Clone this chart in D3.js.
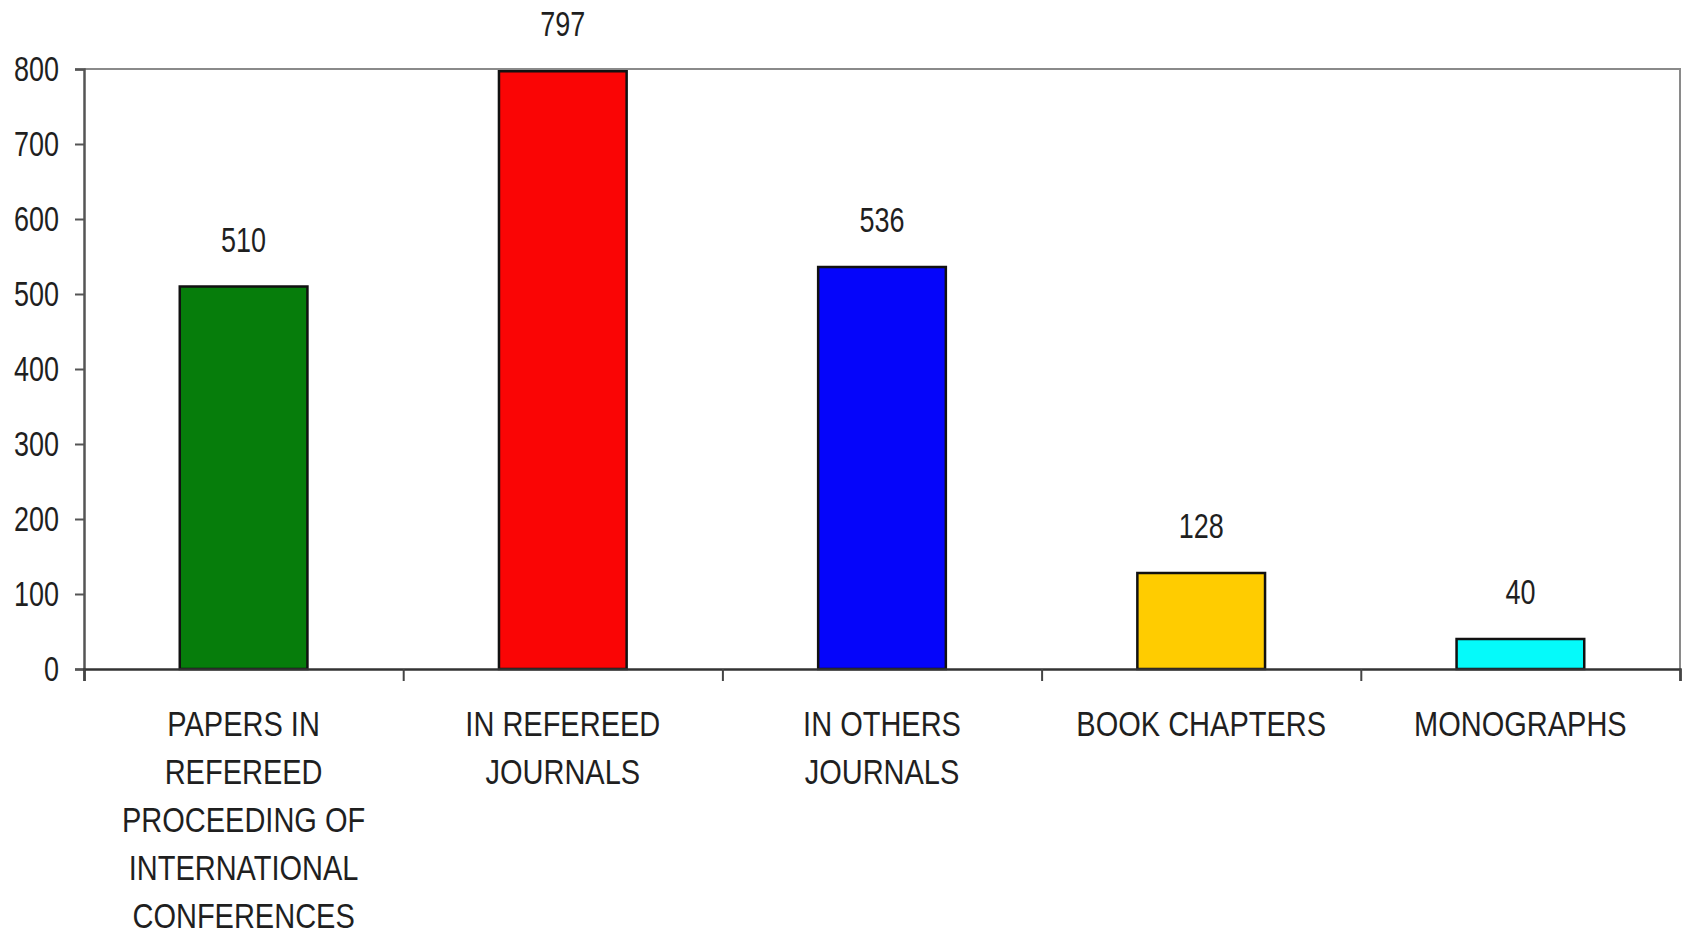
<!DOCTYPE html>
<html>
<head>
<meta charset="utf-8">
<script src="https://cdn.jsdelivr.net/npm/d3@7"></script>
<style>
  body { margin: 0; background: #fff; }
  text { font-family: "Liberation Sans", Arial, sans-serif; fill: #1f1f1f; }
</style>
</head>
<body>
<script>
// data
var categories = [
    ['PAPERS IN', 'REFEREED', 'PROCEEDING OF', 'INTERNATIONAL', 'CONFERENCES'],
    ['IN REFEREED', 'JOURNALS'],
    ['IN OTHERS', 'JOURNALS'],
    ['BOOK CHAPTERS'],
    ['MONOGRAPHS']
]
var values = [510, 797, 536, 128, 40]
var barColors = ['#067d0b', '#fa0505', '#0505fa', '#ffcc00', '#05fafa']
var yTicks = [0, 100, 200, 300, 400, 500, 600, 700, 800]

var width = 1688, height = 936
var margin = {top: 69, right: 8, bottom: 267, left: 84}
var plotW = width - margin.left - margin.right
var plotH = height - margin.top - margin.bottom

// the text in the picture is stretched upward
var fontSize = 27
var stretch = 1.3
var catFontSize = 29
var catStretch = 1.2

var root = d3.select('body').append('svg')
    .attr('width', width)
    .attr('height', height)

var svg = root.append('g')
    .attr('transform', 'translate(' + margin.left + ',' + margin.top + ')')

var xScale = d3.scaleBand()
    .domain(d3.range(values.length))
    .range([0, plotW])
    .padding(0)

// boundaries between categories, for the tick marks
var xEdges = d3.scaleLinear()
    .domain([0, values.length])
    .range([0, plotW])

var yScale = d3.scaleLinear()
    .domain([0, 800])
    .range([plotH, 0])

// plot frame (top and right in light gray)
svg.append('path')
    .attr('d', 'M0,0H' + plotW + 'V' + plotH)
    .attr('fill', 'none')
    .attr('stroke', '#8a8a8a')
    .attr('stroke-width', 2)

// bars
var barW = xScale.bandwidth() * 0.4
svg.append('g')
    .selectAll('rect')
    .data(values)
    .enter()
    .append('rect')
    .attr('x', function(d, i) { return xScale(i) + (xScale.bandwidth() - barW) / 2 })
    .attr('y', function(d) { return yScale(d) })
    .attr('width', barW)
    .attr('height', function(d) { return plotH - yScale(d) })
    .attr('fill', function(d, i) { return barColors[i] })
    .attr('stroke', '#111')
    .attr('stroke-width', 2.5)

// value labels
svg.append('g')
    .selectAll('text')
    .data(values)
    .enter()
    .append('text')
    .attr('transform', function(d, i) {
        return 'translate(' + (xScale(i) + xScale.bandwidth() / 2) + ',' + (yScale(d) - 35) + ') scale(1,' + stretch + ')'
    })
    .attr('text-anchor', 'middle')
    .attr('font-size', fontSize + 'px')
    .text(function(d) { return d })

// y axis
var yAxis = svg.append('g')
    .call(d3.axisLeft(yScale).tickValues(yTicks).tickSize(9).tickPadding(16).tickFormat(d3.format('d')))
yAxis.select('.domain').attr('stroke', '#555').attr('stroke-width', 2.5)
yAxis.selectAll('.tick line').attr('stroke', '#555').attr('stroke-width', 2)
yAxis.selectAll('.tick text')
    .attr('font-size', fontSize + 'px')
    .attr('font-family', '"Liberation Sans", Arial, sans-serif')
    .attr('fill', '#1f1f1f')
    .attr('transform', 'scale(1,' + stretch + ')')

// x axis with ticks between categories
var xAxis = svg.append('g')
    .attr('transform', 'translate(0,' + plotH + ')')
    .call(d3.axisBottom(xEdges).tickValues(d3.range(values.length + 1)).tickSize(12).tickFormat(''))
xAxis.select('.domain').attr('stroke', '#333').attr('stroke-width', 2.5)
xAxis.selectAll('.tick line').attr('stroke', '#444').attr('stroke-width', 2)

// category labels
var lineH = 48
var labels = svg.append('g')
    .selectAll('text')
    .data(categories)
    .enter()
    .append('text')
    .attr('text-anchor', 'middle')
    .attr('font-size', catFontSize + 'px')
    .attr('transform', function(d, i) {
        return 'translate(' + (xScale(i) + xScale.bandwidth() / 2) + ',' + (plotH + 67) + ') scale(1,' + catStretch + ')'
    })

labels.selectAll('tspan')
    .data(function(d) { return d })
    .enter()
    .append('tspan')
    .attr('x', 0)
    .attr('y', function(d, j) { return j * lineH / catStretch })
    .text(function(d) { return d })
</script>
</body>
</html>
